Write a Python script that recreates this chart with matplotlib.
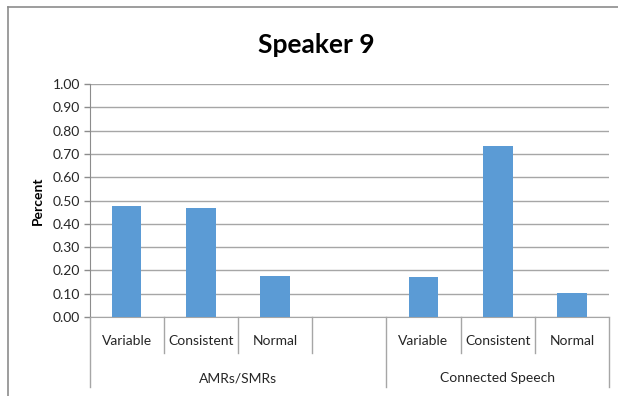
import matplotlib
matplotlib.use("Agg")
import matplotlib.pyplot as plt
from matplotlib.lines import Line2D

# Data
title = "Speaker 9"
y_label = "Percent"
groups = ["AMRs/SMRs", "Connected Speech"]
amr_categories = ["Variable", "Consistent", "Normal", ""]
cs_categories = ["Variable", "Consistent", "Normal"]
amr_values = [0.476, 0.467, 0.174, None]
cs_values = [0.171, 0.734, 0.101]
y_ticks = [0.0, 0.1, 0.2, 0.3, 0.4, 0.5, 0.6, 0.7, 0.8, 0.9, 1.0]

plt.rcParams['font.family'] = ['Lato', 'DejaVu Sans']

W, H = 618, 396
fig = plt.figure(figsize=(W / 100, H / 100), dpi=100)
fig.patch.set_facecolor("white")

# chart frame (top and left edges)
fig.add_artist(Line2D([8 / W, 1.0], [1 - 7 / H, 1 - 7 / H], color="#8c8c8c", lw=1.2))
fig.add_artist(Line2D([8 / W, 8 / W], [0, 1 - 7 / H], color="#8c8c8c", lw=1.2))

left, right = 89.5 / W, 609 / W
bottom, top = 1 - 317 / H, 1 - 84 / H
ax = fig.add_axes([left, bottom, right - left, top - bottom])

categories = amr_categories + cs_categories
values = amr_values + cs_values
n = len(categories)
xs = [i + 0.5 for i in range(n)]

bar_x = [x for x, v in zip(xs, values) if v is not None]
bar_v = [v for v in values if v is not None]
ax.bar(bar_x, bar_v, width=0.4, color="#5B9BD5", zorder=3)

ax.set_xlim(0, n)
ax.set_ylim(0, 1.0)
ax.set_yticks(y_ticks)
ax.set_yticklabels([f"{t:.2f}" for t in y_ticks], fontsize=10, color="#262626")
ax.tick_params(axis="y", length=4, color="#8c8c8c", width=1, pad=3)
ax.tick_params(axis="x", length=0, labelbottom=False)
ax.grid(axis="y", color="#a6a6a6", lw=1, zorder=0)
for s in ["top", "right"]:
    ax.spines[s].set_visible(False)
ax.spines["left"].set_color("#8c8c8c")
ax.spines["bottom"].set_color("#a6a6a6")

ax.set_ylabel(y_label, fontsize=10, fontweight="bold")
ax.yaxis.set_label_coords(-0.088, 0.5)

trans = ax.get_xaxis_transform()
# category labels and separators
for x, c in zip(xs, categories):
    ax.text(x, -0.103, c, transform=trans, ha="center", va="center",
            fontsize=10, color="#262626")

group_sizes = [len(amr_categories), len(cs_categories)]
group_edges = [0]
for g in group_sizes:
    group_edges.append(group_edges[-1] + g)

for i in range(n + 1):
    ymin = -0.30 if i in group_edges else -0.155
    ax.add_line(Line2D([i, i], [0, ymin], transform=trans, color="#a6a6a6",
                       lw=1, clip_on=False))

for g, a, b in zip(groups, group_edges[:-1], group_edges[1:]):
    ax.text((a + b) / 2, -0.262, g, transform=trans, ha="center", va="center",
            fontsize=10, color="#262626")

fig.text(316 / W, 1 - 45 / H, title, ha="center", va="center",
         fontsize=19, fontweight="bold", color="black")

fig.savefig("out.png", dpi=100)
